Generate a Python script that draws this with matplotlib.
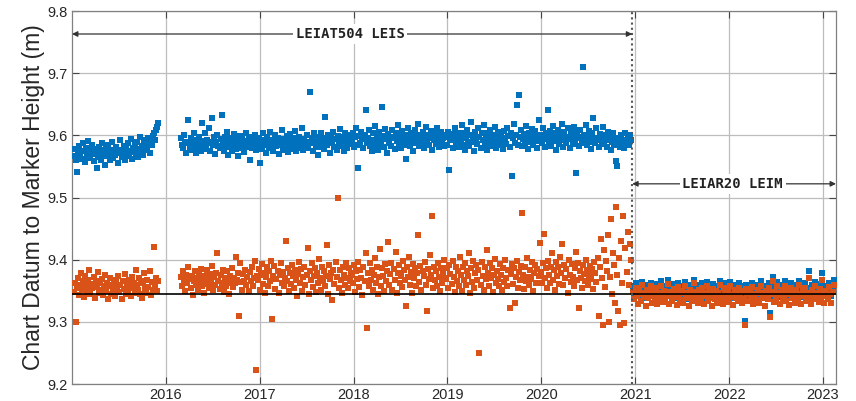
import numpy as np
import matplotlib
matplotlib.use("Agg")
import matplotlib.pyplot as plt
import matplotlib.dates as mdates

plt.rcParams['font.family'] = ['Liberation Sans', 'DejaVu Sans']

# ---------------- data (heights in mm above 9.000 m) ----------------
# each segment: first and last observation date, evenly sampled in between
seg_2015 = ("2015-01-08", "2015-12-01")
seg_2016_2020 = ("2016-03-01", "2020-12-14")
seg_2021_2023 = ("2020-12-24", "2023-02-12")

blue_2015 = [
566,578,560,541,571,583,569,575,562,588,574,557,580,567,591,572,563,576,585,559,
570,578,548,565,582,573,561,587,569,576,553,579,566,584,571,560,574,589,563,577,
568,581,572,556,576,592,565,574,583,561,578,570,587,567,575,594,562,580,573,586,
571,589,565,578,597,574,583,569,592,576,588,581,595,572,590,584,599,603,592,608,614,620]

blue_2016_2020 = [
595,584,579,601,588,572,590,625,582,596,577,589,603,585,571,593,580,598,586,574,
620,591,583,604,578,593,587,612,575,590,628,584,597,570,589,601,583,579,594,632,
587,575,598,583,606,569,590,581,596,574,588,602,585,578,593,567,589,599,580,594,
586,573,591,604,582,597,560,588,579,595,583,601,577,590,
585,596,555,590,578,603,584,592,571,598,587,579,605,582,593,574,589,600,583,596,
570,591,585,608,577,594,588,581,599,573,590,602,586,578,595,583,607,575,592,586,
598,580,589,612,576,594,584,601,579,590,670,587,596,575,603,588,581,597,569,593,
586,604,582,595,578,630,591,584,600,587,572,596,589,605,581,594,577,599,586,610,
592,583,597,575,604,589,580,598,586,593,601,
590,603,581,597,612,585,548,599,588,606,594,579,601,640,587,596,608,583,592,575,
603,590,615,584,598,577,605,592,586,645,599,582,610,594,571,602,588,597,583,609,
595,578,604,591,616,586,599,580,607,593,585,601,562,596,611,589,583,604,598,575,
592,608,587,600,619,583,596,590,605,579,597,613,588,601,584,595,607,576,599,592,
603,586,611,594,581,598,605,589,596,583,600,
597,584,606,545,593,602,579,598,611,587,595,604,582,599,591,616,585,603,577,596,
608,590,583,601,622,589,597,574,605,593,586,611,598,580,603,592,617,586,599,576,
604,591,609,583,596,600,587,613,579,598,605,590,584,602,595,578,607,593,586,612,
599,582,604,535,596,618,588,601,648,585,665,597,609,583,594,602,587,615,592,578,
603,596,589,610,584,599,607,591,580,625,597,
600,587,612,594,581,604,596,640,589,607,583,598,615,591,604,577,596,609,586,601,
593,618,582,605,597,588,611,594,579,603,599,586,614,592,540,606,597,583,609,595,
588,710,601,592,616,584,599,607,590,578,604,628,595,587,611,593,582,602,597,589,
613,586,600,594,581,605,592,598,576,589,603,584,595,558,551,590,596,582,600,587,
593,579,604,588,598,585,601,592]

blue_2021_2023 = [
357,346,362,350,341,359,353,344,364,349,355,338,360,347,354,363,342,357,351,345,
361,340,354,348,365,352,343,358,346,353,367,341,356,350,345,361,349,355,339,363,
351,344,357,342,356,364,347,353,337,360,349,343,356,368,346,354,341,359,351,345,
362,339,355,350,364,343,357,348,338,361,353,346,358,342,355,366,347,351,340,362,
354,345,356,343,364,349,352,338,359,348,355,344,362,350,341,357,346,302,360,353,
343,356,348,363,340,354,351,345,359,341,355,365,347,352,338,358,350,345,362,315,
354,372,342,356,348,364,352,340,355,360,345,350,365,343,357,339,353,362,347,356,
342,360,349,346,366,353,340,357,350,362,344,355,347,382,340,359,352,346,364,349,
356,343,361,348,378,354,341,358,351,346,363,353,342,356,367]

orange_2015 = [
348,362,300,355,371,343,359,378,352,366,340,374,357,349,368,383,345,361,354,372,
338,365,356,380,347,362,351,369,343,358,376,349,363,336,357,371,345,360,352,367,
341,364,356,374,348,359,337,366,353,377,344,361,350,368,358,342,372,355,363,347,
384,359,351,370,345,366,338,362,379,354,347,368,356,381,343,364,352,420,360,371,
349,366]

orange_2016_2020 = [
372,358,381,365,350,376,362,388,369,355,374,343,366,381,359,371,352,378,364,385,
357,369,347,373,361,383,368,354,377,364,390,351,372,360,379,410,366,353,375,362,
384,348,370,358,381,367,345,374,363,386,356,371,362,405,368,379,310,395,364,352,
377,366,384,359,372,349,380,365,388,357,370,398,222,374,
368,385,352,376,393,361,379,346,372,388,357,381,365,398,305,374,390,353,369,382,
347,376,395,362,380,358,371,430,366,387,349,378,361,392,374,355,383,368,341,377,
396,363,385,350,372,389,359,376,418,345,381,367,394,356,373,386,348,379,363,401,
370,352,388,366,381,357,374,423,345,392,369,378,335,384,361,397,372,500,355,383,
368,346,389,376,360,395,371,355,386,366,379,
375,362,391,348,381,369,397,356,384,371,343,388,365,410,290,379,357,395,368,384,
351,376,402,363,389,345,372,417,358,386,374,349,393,366,381,428,360,377,394,352,
385,368,413,346,379,391,362,374,356,398,383,367,325,388,372,405,359,380,346,393,
370,387,357,378,440,364,390,351,382,373,397,360,318,385,369,408,376,470,354,389,
367,381,358,395,372,349,386,363,379,400,371,
369,386,354,392,377,361,398,372,348,389,365,382,357,404,375,350,388,368,395,359,
381,373,410,346,386,364,398,355,378,392,367,383,250,360,396,374,351,388,369,415,
379,357,394,370,386,348,375,401,363,382,369,357,393,376,352,387,364,399,371,358,
384,323,377,393,361,386,330,372,398,355,380,367,390,475,376,353,388,365,402,372,
359,384,369,396,350,378,391,362,385,374,427,
380,362,395,441,371,386,354,398,375,362,389,410,367,383,352,396,374,388,361,404,
378,425,359,391,370,385,347,400,376,364,393,372,358,387,413,368,395,322,381,370,
354,392,377,366,399,383,360,375,390,369,385,353,396,378,364,402,310,388,433,371,
295,415,356,398,382,440,300,372,465,345,410,392,330,485,376,318,402,295,430,362,
470,298,418,380,445,360,425,400]

orange_2021_2023 = [
348,336,355,341,329,352,344,333,359,340,347,326,351,338,345,357,331,349,342,335,
354,328,346,339,358,343,332,350,337,345,361,329,348,341,334,353,340,346,327,356,
342,335,349,331,347,358,338,344,325,352,340,333,348,362,337,345,330,351,342,336,
355,328,346,341,357,334,349,339,326,353,344,337,350,331,346,360,338,342,329,354,
345,336,348,332,357,340,343,327,351,339,346,334,355,341,330,349,337,295,353,344,
333,348,339,356,328,345,342,335,351,330,347,358,338,343,326,350,341,336,354,307,
345,366,332,348,339,357,343,329,346,352,335,341,358,333,349,327,344,355,338,347,
331,352,340,336,359,344,328,349,341,355,334,346,338,370,329,351,343,336,357,340,
347,332,353,339,368,345,330,350,342,336,356,344,331,348,359]

reference_level = 9.345
antenna_change = "2020-12-20"
antenna_labels = ["LEIAT504 LEIS", "LEIAR20 LEIM"]
year_ticks = list(range(2016, 2024))

# ---------------- helpers ----------------
def dates(seg, n):
    a = mdates.date2num(np.datetime64(seg[0]))
    b = mdates.date2num(np.datetime64(seg[1]))
    return np.linspace(a, b, n)

def metres(mm):
    return 9.0 + np.asarray(mm) / 1000.0

blue_c = '#0072BD'
orange_c = '#D95319'

fig = plt.figure(figsize=(8.56, 4.01), dpi=100)
ax = fig.add_axes([72/856, 1-384/401, (836-72)/856, (384-11)/401])

ms = 4.4
for vals, seg in [(blue_2015, seg_2015), (blue_2016_2020, seg_2016_2020), (blue_2021_2023, seg_2021_2023)]:
    ax.plot(dates(seg, len(vals)), metres(vals), 's', color=blue_c, ms=ms, mew=0, zorder=3)
for vals, seg in [(orange_2015, seg_2015), (orange_2016_2020, seg_2016_2020), (orange_2021_2023, seg_2021_2023)]:
    ax.plot(dates(seg, len(vals)), metres(vals), 's', color=orange_c, ms=ms, mew=0, zorder=4)

xmin = mdates.date2num(np.datetime64("2015-01-01"))
xmax = mdates.date2num(np.datetime64("2023-02-21"))
ax.set_xlim(xmin, xmax)
ax.set_ylim(9.2, 9.8)

ax.axhline(reference_level, color='black', lw=1.2, zorder=5)
xc = mdates.date2num(np.datetime64(antenna_change))
ax.axvline(xc, color='#555555', lw=1.5, ls=(0, (1, 1.5)), zorder=6)

# antenna period arrows
arrowprops = dict(arrowstyle='<|-|>', mutation_scale=8, lw=0.9, color='#333333',
                  shrinkA=0, shrinkB=0)
ax.annotate('', xy=(xmin, 9.763), xytext=(xc, 9.763), arrowprops=arrowprops, zorder=7)
ax.annotate('', xy=(xc, 9.522), xytext=(xmax, 9.522), arrowprops=arrowprops, zorder=7)
tk = dict(family=['DejaVu Sans Mono'], fontsize=10, fontweight='bold', color='#222222',
          ha='center', va='center', zorder=8,
          bbox=dict(boxstyle='square,pad=0.2', fc='white', ec='none'))
ax.text(mdates.date2num(np.datetime64("2017-12-18")), 9.763, antenna_labels[0], **tk)
ax.text(mdates.date2num(np.datetime64("2022-01-15")), 9.522, antenna_labels[1], **tk)

ax.set_xticks([mdates.date2num(np.datetime64(f"{y}-01-01")) for y in year_ticks])
ax.set_xticklabels([str(y) for y in year_ticks])
ax.set_yticks([9.2, 9.3, 9.4, 9.5, 9.6, 9.7, 9.8])
ax.set_yticklabels(['9.2', '9.3', '9.4', '9.5', '9.6', '9.7', '9.8'])
ax.tick_params(direction='in', length=5, width=0.8, labelsize=10.5, top=True, right=True,
               color='#444444', labelcolor='#262626', pad=3)
ax.grid(True, color='#bdbdbd', lw=0.9)
ax.set_axisbelow(True)
for s in ax.spines.values():
    s.set_color('#808080')
    s.set_linewidth(0.9)
ax.set_ylabel('Chart Datum to Marker Height (m)', fontsize=16.5, color='#262626', labelpad=2)

fig.savefig('out.png', dpi=100)
